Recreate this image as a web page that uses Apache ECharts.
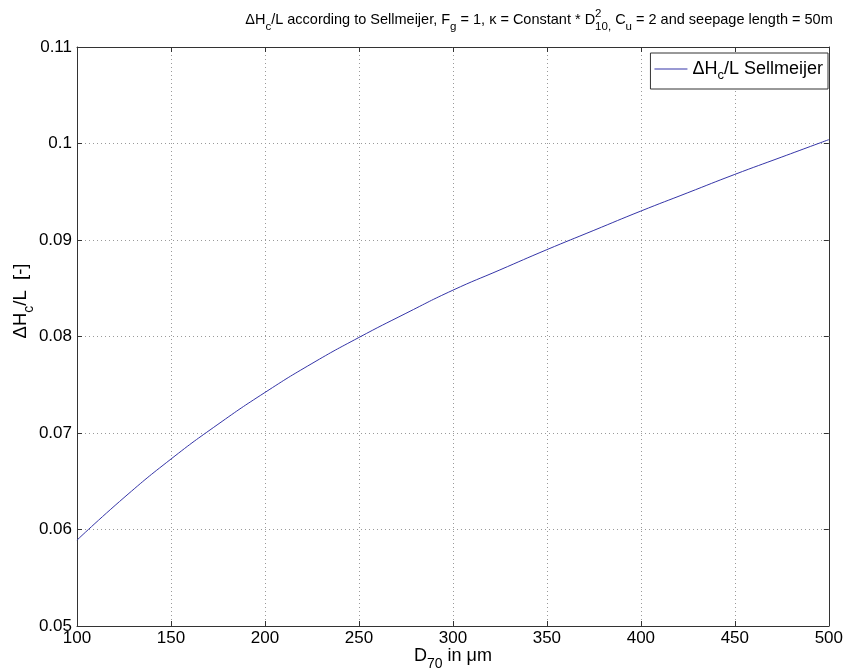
<!DOCTYPE html>
<html>
<head>
<meta charset="utf-8">
<script src="https://cdn.jsdelivr.net/npm/echarts@6/dist/echarts.min.js"></script>
<style>html,body{margin:0;padding:0;background:#fff}#c{width:846px;height:671px}</style>
</head>
<body>
<div id="c"></div>
<script>
// ---- data ----
const d70 = [100, 125, 150, 175, 200, 225, 250, 275, 300, 325, 350, 375, 400, 425, 450, 475, 500];
const dHcL = [0.0589, 0.0633, 0.0673, 0.0709, 0.0742, 0.0772, 0.0799, 0.0824, 0.0848, 0.0869, 0.0890, 0.0910, 0.0930, 0.0949, 0.0968, 0.0986, 0.1004];
const xTicks = [100, 150, 200, 250, 300, 350, 400, 450, 500];
const yTicks = [0.05, 0.06, 0.07, 0.08, 0.09, 0.1, 0.11];
const seriesName = 'ΔHc/L Sellmeijer';

const FONT = '"Liberation Sans", Arial, sans-serif';
const mctx = document.createElement('canvas').getContext('2d');
function tw(t, size) { mctx.font = size + 'px ' + FONT; return mctx.measureText(t).width; }

// build a group of text pieces with sub/superscripts
function richGroup(pieces, size, subSize, opts) {
  const children = [];
  let x = 0;
  pieces.forEach(p => {
    if (p.n !== undefined) {
      children.push({type: 'text', x: x, y: 0, style: {text: p.n, font: size + 'px ' + FONT, fill: '#000', textVerticalAlign: 'middle'}});
      x += tw(p.n, size);
    } else {
      let w = 0;
      if (p.sub !== undefined) {
        children.push({type: 'text', x: x, y: size * 0.45, style: {text: p.sub, font: subSize + 'px ' + FONT, fill: '#000', textVerticalAlign: 'middle'}});
        w = Math.max(w, tw(p.sub, subSize));
      }
      if (p.sup !== undefined) {
        children.push({type: 'text', x: x, y: -size * 0.45, style: {text: p.sup, font: subSize + 'px ' + FONT, fill: '#000', textVerticalAlign: 'middle'}});
        w = Math.max(w, tw(p.sup, subSize));
      }
      x += w;
    }
  });
  const off = opts.align === 'center' ? -x / 2 : 0;
  children.forEach(c => c.x += off);
  return {type: 'group', x: opts.x, y: opts.y, rotation: opts.rotation || 0, children: children, silent: true};
}

const titlePieces = [
  {n: 'ΔH'}, {sub: 'c'}, {n: '/L according to Sellmeijer, F'}, {sub: 'g'},
  {n: ' = 1, κ = Constant * D'}, {sub: '10,', sup: '2'}, {n: ' C'}, {sub: 'u'},
  {n: ' = 2 and seepage length = 50m'}
];
const xNamePieces = [{n: 'D'}, {sub: '70'}, {n: ' in μm'}];
const yNamePieces = [{n: 'ΔH'}, {sub: 'c'}, {n: '/L  [-]'}];

const chart = echarts.init(document.getElementById('c'));
const axisCol = '#333';
const gridLine = {show: true, lineStyle: {color: '#9a9a9a', type: [1, 3], width: 1}};
chart.setOption({
  backgroundColor: '#fff',
  animation: false,
  grid: {left: 77, right: 13, top: 47, bottom: 45},
  legend: {
    data: [seriesName], right: 18, top: 53, orient: 'vertical',
    icon: 'rect', itemWidth: 33, itemHeight: 1, itemGap: 0,
    padding: [7, 5, 7, 4], borderColor: '#333', borderWidth: 1, backgroundColor: '#fff',
    formatter: () => '{n|ΔH}{s|c}{n|/L Sellmeijer}',
    textStyle: {
      fontFamily: FONT, color: '#000',
      rich: {n: {fontSize: 18, fontFamily: FONT, color: '#000'}, s: {fontSize: 13, fontFamily: FONT, color: '#000', padding: [13, 0, 0, 0]}}
    }
  },
  xAxis: [{
    type: 'value', min: xTicks[0], max: xTicks[xTicks.length - 1], interval: 50,
    axisLine: {lineStyle: {color: axisCol}}, axisTick: {inside: true, length: 5, lineStyle: {color: axisCol}},
    axisLabel: {color: '#000', fontSize: 17, fontFamily: FONT, margin: 4, showMinLabel: true, showMaxLabel: true},
    splitLine: gridLine
  }, {
    type: 'value', position: 'top', min: xTicks[0], max: xTicks[xTicks.length - 1], interval: 50,
    axisLine: {show: true, onZero: false, lineStyle: {color: axisCol}}, axisTick: {show: true, inside: true, length: 5, lineStyle: {color: axisCol}},
    axisLabel: {show: false}, splitLine: {show: false}
  }],
  yAxis: [{
    type: 'value', min: yTicks[0], max: yTicks[yTicks.length - 1], interval: 0.01,
    axisLine: {show: true, lineStyle: {color: axisCol}}, axisTick: {show: true, inside: true, length: 5, lineStyle: {color: axisCol}},
    axisLabel: {color: '#000', fontSize: 17, fontFamily: FONT, margin: 5,
      formatter: v => String(+v.toFixed(2))},
    splitLine: gridLine
  }, {
    type: 'value', position: 'right', min: yTicks[0], max: yTicks[yTicks.length - 1], interval: 0.01,
    axisLine: {show: true, onZero: false, lineStyle: {color: axisCol}}, axisTick: {show: true, inside: true, length: 5, lineStyle: {color: axisCol}},
    axisLabel: {show: false}, splitLine: {show: false}
  }],
  series: [{
    name: seriesName, type: 'line', smooth: true, showSymbol: false,
    data: d70.map((x, i) => [x, dHcL[i]]),
    lineStyle: {color: '#3535a8', width: 1}, itemStyle: {color: '#3535a8'}
  }],
  graphic: [
    richGroup(titlePieces, 14.5, 11.5, {x: 539, y: 20, align: 'center'}),
    richGroup(xNamePieces, 18, 14, {x: 453, y: 656, align: 'center'}),
    richGroup(yNamePieces, 18.5, 14, {x: 21, y: 301, align: 'center', rotation: Math.PI / 2})
  ]
});
</script>
</body>
</html>
